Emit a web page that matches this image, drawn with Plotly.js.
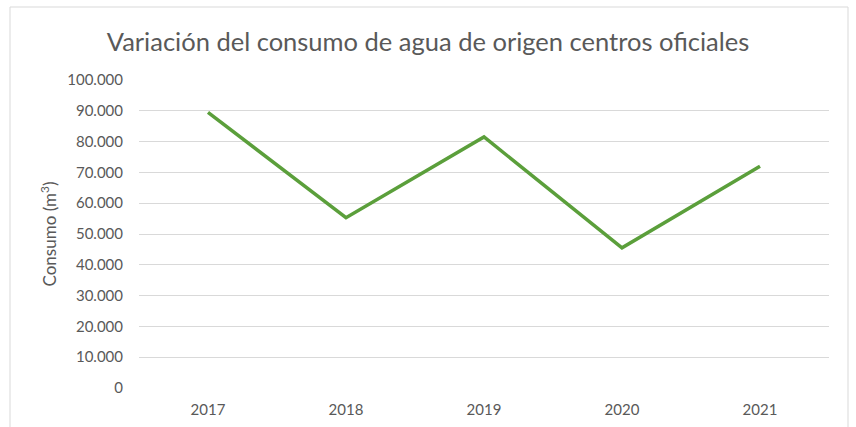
<!DOCTYPE html>
<html>
<head>
<meta charset="utf-8">
<script src="https://cdn.plot.ly/plotly-3.0.1.min.js"></script>
<style>html,body{margin:0;padding:0;background:#fff;}#chart{width:856px;height:427px;}</style>
</head>
<body>
<div id="chart"></div>
<script>
const years = ['2017', '2018', '2019', '2020', '2021'];
const consumo = [89500, 55300, 81500, 45500, 72000];
const yTicks = [0, 10000, 20000, 30000, 40000, 50000, 60000, 70000, 80000, 90000, 100000];

const W = 856, H = 427;
const M = {l: 139, r: 27, t: 80, b: 39};
const pw = W - M.l - M.r, ph = H - M.t - M.b;
const px = v => (v - M.l) / pw;
const py = v => (H - M.b - v) / ph;

const font = 'Lato, "Open Sans", sans-serif';

Plotly.newPlot('chart', [{
  x: years,
  y: consumo,
  type: 'scatter',
  mode: 'lines',
  line: {color: '#5B9F3B', width: 3.5},
  hoverinfo: 'x+y'
}], {
  width: W, height: H,
  margin: M,
  paper_bgcolor: '#ffffff',
  plot_bgcolor: '#ffffff',
  separators: ',.',
  showlegend: false,
  title: {
    text: 'Variación del consumo de agua de origen centros oficiales',
    font: {family: font, size: 25.5, color: '#595959'},
    x: 0.5, xref: 'container', xanchor: 'center', y: 1 - 42 / H, yanchor: 'middle'
  },
  xaxis: {
    type: 'category',
    range: [-0.5, 4.5],
    showgrid: false,
    zeroline: false,
    showline: false,
    ticks: '',
    ticklabelstandoff: 11,
    tickfont: {family: font, size: 15, color: '#595959'}
  },
  yaxis: {
    range: [0, 100000],
    tickvals: yTicks,
    tickformat: ',d',
    showgrid: true,
    gridcolor: '#D9D9D9',
    gridwidth: 1,
    zeroline: false,
    showline: false,
    ticks: '',
    ticklabelstandoff: 15,
    tickfont: {family: font, size: 15, color: '#595959'},
    title: {
      text: 'Consumo (m<sup>3</sup>)',
      font: {family: font, size: 17, color: '#595959'},
      standoff: 6
    }
  },
  shapes: [{
    type: 'rect', xref: 'paper', yref: 'paper',
    x0: px(10), x1: px(848), y0: py(440), y1: py(7),
    line: {color: '#D9D9D9', width: 1}, fillcolor: 'rgba(0,0,0,0)', layer: 'below'
  }]
}, {staticPlot: true});
</script>
</body>
</html>
